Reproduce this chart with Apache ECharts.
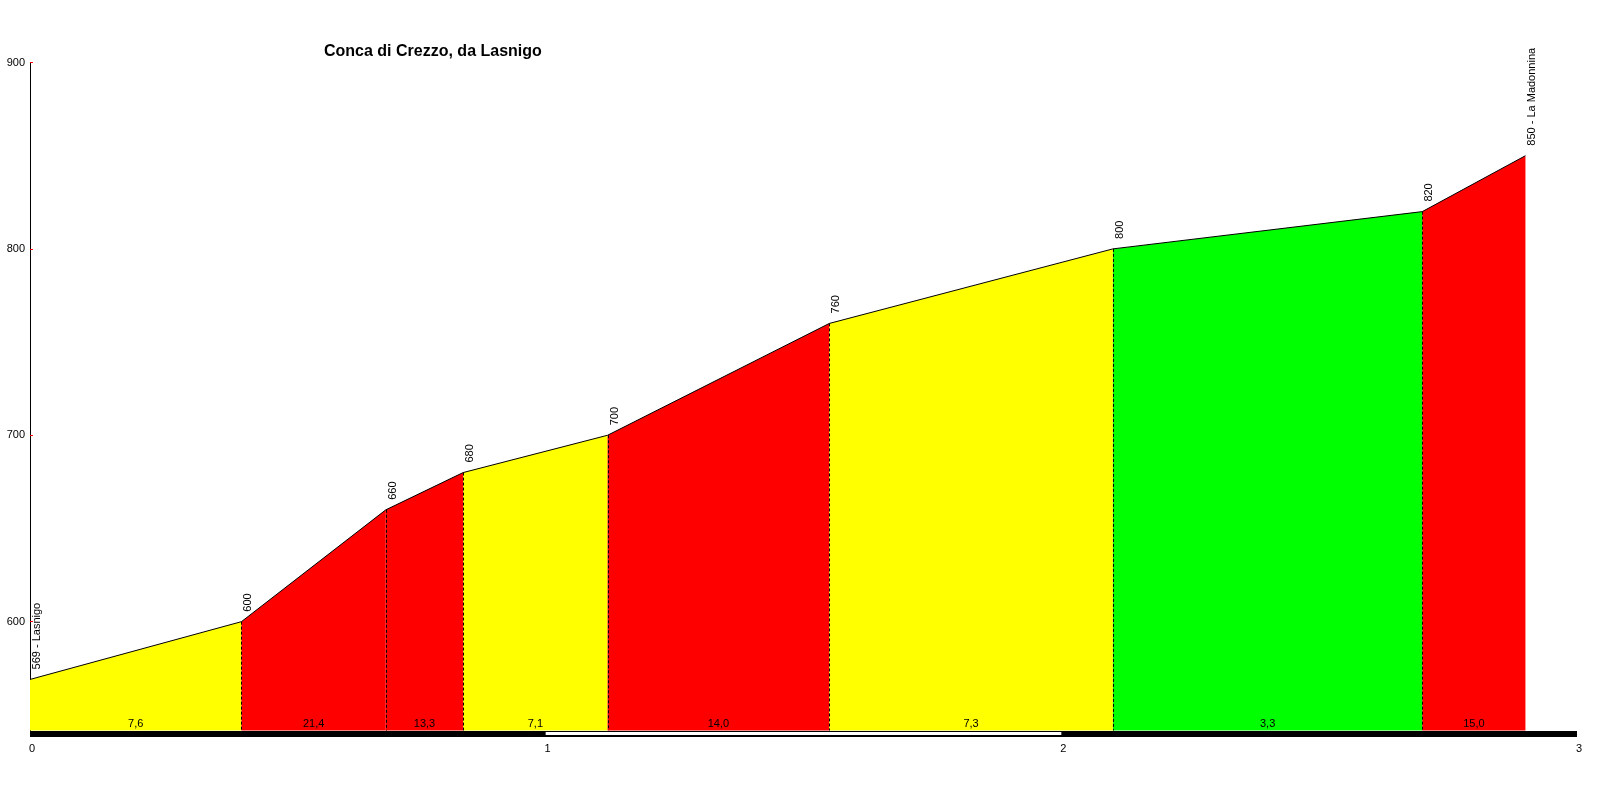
<!DOCTYPE html>
<html>
<head>
<meta charset="utf-8">
<script src="https://cdn.jsdelivr.net/npm/echarts@6/dist/echarts.min.js"></script>
<style>
html,body{margin:0;padding:0;background:#fff;}
#chart{width:1600px;height:800px;}
</style>
</head>
<body>
<div id="chart"></div>
<script>
// ---- data ----
const titleText = 'Conca di Crezzo, da Lasnigo';
const km = [0, 0.41, 0.69, 0.84, 1.12, 1.55, 2.10, 2.70, 2.90];
const elev = [569, 600, 660, 680, 700, 760, 800, 820, 850];
const pointLabels = ['569 - Lasnigo', '600', '660', '680', '700', '760', '800', '820', '850 - La Madonnina'];
const grades = ['7,6', '21,4', '13,3', '7,1', '14,0', '7,3', '3,3', '15,0'];
const yTicks = [600, 700, 800, 900];
const xTicks = [0, 1, 2, 3];
const yMin = 540, yMax = 900;

function gradeColor(g) {
  if (g < 5) return '#00ff00';
  if (g < 10) return '#ffff00';
  return '#ff0000';
}

const segData = km.slice(0, -1).map((k, i) => [k, elev[i], km[i + 1], elev[i + 1], i]);
const ptData = km.map((k, i) => [k, elev[i], i]);
const lineData = km.map((k, i) => [k, elev[i]]);

const FONT = 'Arial, "Liberation Sans", sans-serif';
const chart = echarts.init(document.getElementById('chart'), null, {renderer: 'canvas'});

chart.setOption({
  animation: false,
  backgroundColor: '#ffffff',
  title: {
    text: titleText,
    left: 319, top: 39,
    textStyle: {fontFamily: FONT, fontSize: 16, fontWeight: 'bold', color: '#000'}
  },
  grid: {left: 30, right: 23, top: 62.5, bottom: 66.5, containLabel: false},
  xAxis: {
    type: 'value', min: 0, max: 3, interval: 1,
    axisLine: {show: true, lineStyle: {color: '#000', width: 6, cap: 'butt'}},
    axisTick: {show: false},
    splitLine: {show: false},
    axisLabel: {margin: 10, fontFamily: FONT, fontSize: 11, color: '#000',
      customValues: xTicks, padding: [0, 0, 0, 4]}
  },
  yAxis: {
    type: 'value', min: yMin, max: yMax,
    axisLine: {show: true, lineStyle: {color: '#000', width: 1}},
    axisTick: {show: true, inside: true, length: 3, lineStyle: {color: '#ff0000'}, customValues: yTicks},
    splitLine: {show: false},
    axisLabel: {margin: 5, fontFamily: FONT, fontSize: 11, color: '#000', customValues: yTicks}
  },
  series: [
    {
      type: 'custom',
      data: segData,
      encode: {x: [0, 2], y: [1, 3]},
      z: 2,
      renderItem: function (params, api) {
        const idx = api.value(4);
        const p0 = api.coord([api.value(0), api.value(1)]);
        const p1 = api.coord([api.value(2), api.value(3)]);
        const b0 = api.coord([api.value(0), yMin]);
        const by = b0[1] - 3;
        const g = parseFloat(grades[idx].replace(',', '.'));
        const children = [{
          type: 'polygon',
          shape: {points: [p0, p1, [p1[0], by], [p0[0], by]]},
          style: {fill: gradeColor(g), stroke: null}
        }];
        if (idx > 0) {
          const x = Math.round(p0[0]) + 0.5;
          children.push({
            type: 'line',
            shape: {x1: x, y1: p0[1], x2: x, y2: by},
            style: {stroke: '#000', lineWidth: 1, lineDash: [3, 2]}
          });
        }
        children.push({
          type: 'text',
          x: (p0[0] + p1[0]) / 2, y: b0[1] - 10,
          style: {text: grades[idx], fontFamily: FONT, fontSize: 11, fill: '#000',
            align: 'center', verticalAlign: 'middle'}
        });
        return {type: 'group', children: children};
      }
    },
    {
      type: 'line',
      data: lineData,
      showSymbol: false,
      symbol: 'none',
      z: 3,
      lineStyle: {color: '#000', width: 1},
      silent: true
    },
    {
      type: 'custom',
      data: ptData,
      encode: {x: 0, y: 1},
      z: 4,
      renderItem: function (params, api) {
        const idx = api.value(2);
        const p = api.coord([api.value(0), api.value(1)]);
        return {
          type: 'text',
          x: p[0] + 7, y: p[1] - 10,
          rotation: Math.PI / 2,
          style: {text: pointLabels[idx], fontFamily: FONT, fontSize: 11, fill: '#000',
            align: 'left', verticalAlign: 'middle'}
        };
      }
    },
    {
      type: 'custom',
      data: [[xTicks[1], xTicks[2]]],
      encode: {x: [0, 1]},
      z: 5,
      renderItem: function (params, api) {
        const a = api.coord([api.value(0), yMin]);
        const b = api.coord([api.value(1), yMin]);
        return {
          type: 'rect',
          shape: {x: a[0], y: a[1] - 1.5, width: b[0] - a[0], height: 3},
          style: {fill: '#ffffff'}
        };
      }
    }
  ]
});
</script>
</body>
</html>
